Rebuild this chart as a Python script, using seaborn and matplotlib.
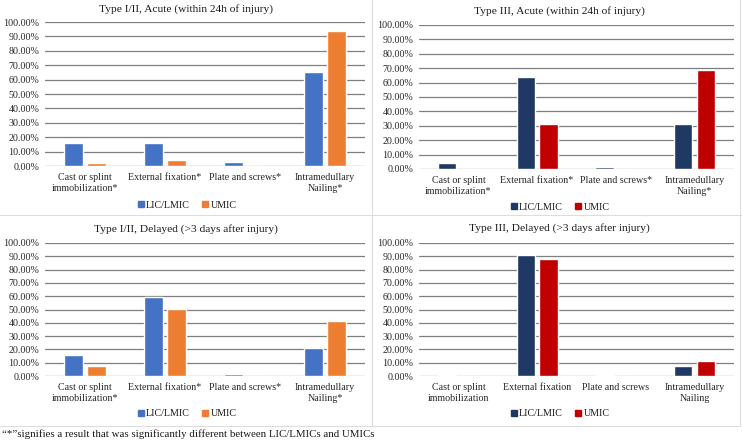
import pandas as pd
import matplotlib.pyplot as plt
import seaborn as sns
from matplotlib.ticker import PercentFormatter, MultipleLocator
from matplotlib.lines import Line2D

# --- data (percent) ---
categories_sig = ['Cast or splint\nimmobilization*', 'External fixation*',
                  'Plate and screws*', 'Intramedullary\nNailing*']
categories_plain = ['Cast or splint\nimmobilization', 'External fixation',
                    'Plate and screws', 'Intramedullary\nNailing']
groups = ['LIC/LMIC', 'UMIC']

t12_acute_lic = [15.9, 15.9, 2.5, 65.0]
t12_acute_umic = [2.1, 3.9, 0.0, 93.8]
t3_acute_lic = [4.2, 63.6, 1.3, 31.2]
t3_acute_umic = [0.0, 31.2, 0.0, 68.7]
t12_delayed_lic = [15.8, 59.7, 1.8, 21.4]
t12_delayed_umic = [7.6, 50.5, 0.0, 41.1]
t3_delayed_lic = [1.0, 91.2, 1.0, 7.4]
t3_delayed_umic = [0.0, 88.2, 0.0, 11.6]

titles = ['Type I/II, Acute (within 24h of injury)',
          'Type III, Acute (within 24h of injury)',
          'Type I/II, Delayed (>3 days after injury)',
          'Type III, Delayed (>3 days after injury)']

footnote = '\u201c*\u201dsignifies a result that was significantly different between LIC/LMICs and UMICs'

blue_orange = ['#4472C4', '#ED7D31']
navy_red = ['#203864', '#C00000']

sns.set_theme(style="white")
plt.rcParams['font.family'] = ['Liberation Serif', 'DejaVu Serif']
plt.rcParams['text.color'] = '#1a1a1a'

W, H = 742, 442
fig = plt.figure(figsize=(W / 100, H / 100), dpi=100)


def px_axes(x0, y0, x1, y1):
    return fig.add_axes([x0 / W, 1 - y1 / H, (x1 - x0) / W, (y1 - y0) / H])


# (axes, lic, umic, labels, colours, title, title y, legend y, panel centre x) in px
panels = [
    (px_axes(45, 22, 365, 166), t12_acute_lic, t12_acute_umic, categories_sig, blue_orange, titles[0], 9, 205, 186),
    (px_axes(419, 25, 734, 169), t3_acute_lic, t3_acute_umic, categories_sig, navy_red, titles[1], 11, 207, 559),
    (px_axes(45, 243, 365, 376), t12_delayed_lic, t12_delayed_umic, categories_sig, blue_orange, titles[2], 229, 414, 186),
    (px_axes(419, 243, 734, 376), t3_delayed_lic, t3_delayed_umic, categories_plain, navy_red, titles[3], 228, 414, 559),
]

for ax, lic, umic, cats, colors, title, ty, ly, cx in panels:
    df = pd.DataFrame({
        'category': cats * 2,
        'group': [groups[0]] * 4 + [groups[1]] * 4,
        'value': lic + umic,
    })
    sns.barplot(data=df, x='category', y='value', hue='group', order=cats,
                hue_order=groups, palette=colors, width=0.58, gap=0.2,
                saturation=1, legend=False, ax=ax)
    ax.set_ylim(0, 100)
    ax.set_xlim(-0.5, 3.5)
    ax.yaxis.set_major_locator(MultipleLocator(10))
    ax.yaxis.set_major_formatter(PercentFormatter(decimals=2))
    ax.grid(axis='y', color='#7f7f7f', linewidth=0.9)
    ax.set_axisbelow(True)
    for s in ax.spines.values():
        s.set_visible(False)
    ax.tick_params(axis='both', length=0, labelsize=7.2, pad=4)
    ax.tick_params(axis='x', pad=5)
    for lab in ax.get_xticklabels():
        lab.set_linespacing(1.25)
    ax.set_xlabel('')
    ax.set_ylabel('')
    # title centred over the whole panel, like the Excel chart area
    fig.text(cx / W, 1 - ty / H, title, fontsize=8.2, ha='center', va='center')
    handles = [Line2D([], [], marker='s', linestyle='', color=c, markersize=3.8) for c in colors]
    fig.legend(handles, groups, loc='center', bbox_to_anchor=(cx / W, 1 - ly / H),
               ncol=2, frameon=False, fontsize=7.2, handletextpad=0.05,
               columnspacing=1.0, handlelength=1, borderpad=0)

# panel borders
border = '#dddddd'
fig.add_artist(Line2D([372 / W, 372 / W], [1, 1 - 426 / H], color=border, lw=0.8))
fig.add_artist(Line2D([0, 1], [1 - 215 / H, 1 - 215 / H], color=border, lw=0.8))
fig.add_artist(Line2D([0, 740 / W], [1 - 426 / H, 1 - 426 / H], color=border, lw=0.8))
fig.add_artist(Line2D([740 / W, 740 / W], [1, 1 - 426 / H], color=border, lw=0.8))

fig.text(2 / W, 1 - 434 / H, footnote, fontsize=7.8, va='center', ha='left')

plt.savefig('out.png', dpi=100)
